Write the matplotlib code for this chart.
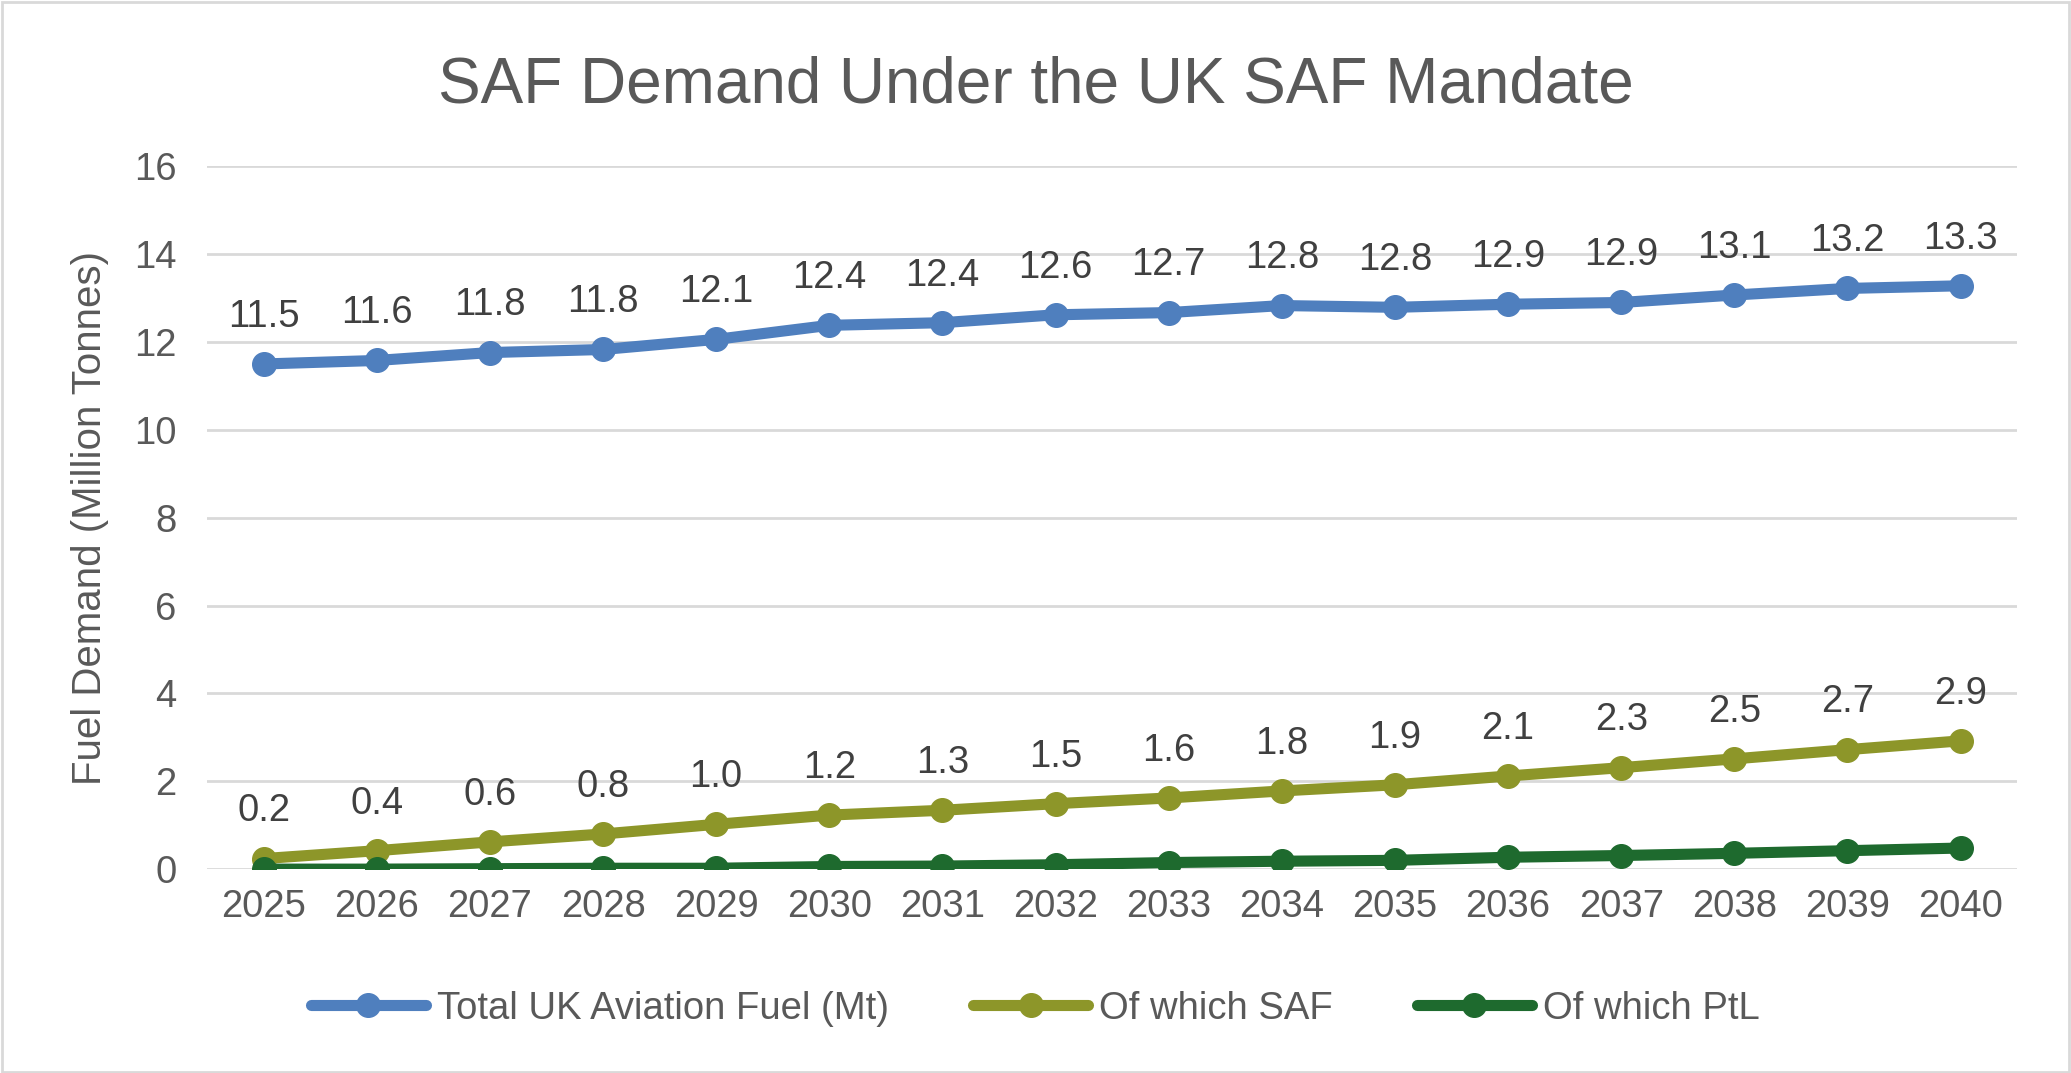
import matplotlib
matplotlib.use("Agg")
import matplotlib.pyplot as plt
from matplotlib.patches import Rectangle

# data
years = ["2025", "2026", "2027", "2028", "2029", "2030", "2031", "2032",
         "2033", "2034", "2035", "2036", "2037", "2038", "2039", "2040"]
total_fuel = [11.50, 11.58, 11.76, 11.83, 12.06, 12.38, 12.44, 12.62,
              12.67, 12.83, 12.79, 12.86, 12.90, 13.07, 13.22, 13.28]
saf = [0.24, 0.42, 0.62, 0.80, 1.02, 1.23, 1.34, 1.49,
       1.62, 1.78, 1.92, 2.12, 2.31, 2.51, 2.72, 2.92]
ptl = [0.00, 0.00, 0.01, 0.02, 0.02, 0.06, 0.07, 0.10,
       0.15, 0.18, 0.20, 0.27, 0.31, 0.36, 0.42, 0.48]
series_names = ["Total UK Aviation Fuel (Mt)", "Of which SAF", "Of which PtL"]
yticks = [0, 2, 4, 6, 8, 10, 12, 14, 16]

plt.rcParams['font.family'] = ['Liberation Sans', 'DejaVu Sans']
text_color = '#595959'
colors = ['#4F7FBE', '#8D9629', '#1E6A2E']

fig = plt.figure(figsize=(20.71, 10.73), dpi=100)
ax = fig.add_axes([0.100, 0.190, 0.874, 0.655])

# outer chart border
fig.patches.append(Rectangle((0.001, 0.001), 0.998, 0.997, transform=fig.transFigure,
                             fill=False, edgecolor='#D9D9D9', linewidth=2))

x = list(range(len(years)))
all_series = [total_fuel, saf, ptl]
for i, (vals, name) in enumerate(zip(all_series, series_names)):
    ax.plot(x, vals, color=colors[i], linewidth=8, marker='o', markersize=17,
            label=name, solid_capstyle='round', zorder=3 + i)
    # only total and SAF get data labels
    if i < 2:
        for xi, v in zip(x, vals):
            ax.annotate(f"{v:.1f}", (xi, v), xytext=(0, 21), textcoords='offset points',
                        ha='center', va='bottom', fontsize=27.5, color='#404040')

ax.set_xlim(-0.5, len(years) - 0.5)
ax.set_ylim(0, 16)
ax.set_yticks(yticks)
ax.set_xticks(x)
ax.set_xticklabels(years)
ax.tick_params(axis='both', length=0, labelsize=27.5, labelcolor=text_color)
ax.tick_params(axis='x', pad=14)
ax.tick_params(axis='y', pad=22)
ax.grid(axis='y', color='#D9D9D9', linewidth=2)
ax.set_axisbelow(True)
for s in ax.spines.values():
    s.set_visible(False)

ax.set_ylabel("Fuel Demand (Million Tonnes)", fontsize=29, color=text_color, labelpad=18)
fig.suptitle("SAF Demand Under the UK SAF Mandate", fontsize=46, color=text_color, y=0.948)

fig.legend(loc='center', bbox_to_anchor=(0.5, 0.060), ncol=3, frameon=False,
           fontsize=27.5, labelcolor=text_color, handlelength=3.0, columnspacing=2.2,
           handletextpad=0.3)

fig.savefig("out.png", dpi=100)
